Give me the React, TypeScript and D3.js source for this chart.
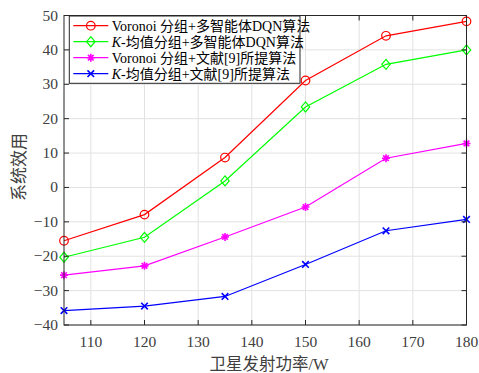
import React from 'react';
import * as d3 from 'd3';

const xValues = [105, 120, 135, 150, 165, 180];
const voronoiDqn = [-15.5, -7.9, 8.7, 31.1, 44.1, 48.3];
const kmeansDqn = [-20.3, -14.5, 1.9, 23.4, 35.8, 40.0];
const voronoiRef = [-25.5, -22.8, -14.4, -5.7, 8.5, 12.8];
const kmeansRef = [-35.8, -34.5, -31.7, -22.4, -12.6, -9.3];
const xTicks = [110, 120, 130, 140, 150, 160, 170, 180];
const yTicks = [-40, -30, -20, -10, 0, 10, 20, 30, 40, 50];
const xLabel = '卫星发射功率/W';
const yLabel = '系统效用';

type Series = { prefix: string; italic: boolean; rest: string; values: number[]; color: string; marker: string };
const series: Series[] = [
  { prefix: 'Voronoi ', italic: false, rest: '分组+多智能体DQN算法', values: voronoiDqn, color: '#ff0000', marker: 'circle' },
  { prefix: 'K', italic: true, rest: '-均值分组+多智能体DQN算法', values: kmeansDqn, color: '#00ff00', marker: 'diamond' },
  { prefix: 'Voronoi ', italic: false, rest: '分组+文献[9]所提算法', values: voronoiRef, color: '#ff00ff', marker: 'star' },
  { prefix: 'K', italic: true, rest: '-均值分组+文献[9]所提算法', values: kmeansRef, color: '#0000ff', marker: 'cross' },
];

const W = 479, H = 373;
const M = { left: 64, right: 466.5, top: 15.5, bottom: 325 };
const FONT = "'Liberation Serif', 'Times New Roman', 'Noto Sans CJK SC', serif";

const x = d3.scaleLinear().domain([105, 180]).range([M.left, M.right]);
const y = d3.scaleLinear().domain([-40, 50]).range([M.bottom, M.top]);

function Marker({ kind, cx, cy, color }: { kind: string; cx: number; cy: number; color: string }) {
  const t = `translate(${cx},${cy})`;
  if (kind === 'circle') return <circle cx={cx} cy={cy} r={4.3} fill="none" stroke={color} strokeWidth={1.2} />;
  if (kind === 'diamond') return <path transform={t} d="M0,-5L4.2,0L0,5L-4.2,0Z" fill="none" stroke={color} strokeWidth={1.2} />;
  if (kind === 'star') {
    const r = 4;
    const d = [0, 45, 90, 135].map(a => {
      const rad = (a * Math.PI) / 180;
      const dx = r * Math.cos(rad), dy = r * Math.sin(rad);
      return `M${-dx},${-dy}L${dx},${dy}`;
    }).join('');
    return <path transform={t} d={d} fill="none" stroke={color} strokeWidth={1.6} />;
  }
  const r = 3.3;
  return <path transform={t} d={`M${-r},${-r}L${r},${r}M${-r},${r}L${r},${-r}`} fill="none" stroke={color} strokeWidth={1.6} />;
}

export default function App() {
  const line = d3.line<number>().x((_, i) => x(xValues[i])).y(d => y(d));
  const tick = 5;
  const legend = { x0: 69.3, y0: 16, x1: 300, y1: 83.3, row0: 25.7, dy: 16 };
  return (
    <div style={{ position: 'fixed', left: 0, top: 0 }}>
      <svg width={W} height={H} style={{ display: 'block', background: '#fff' }} fontFamily={FONT}>
        <rect width={W} height={H} fill="#fff" />
        {/* grid */}
        {xTicks.map(t => (
          <line key={'gx' + t} x1={x(t)} x2={x(t)} y1={M.top} y2={M.bottom} stroke="#e2e2e2" strokeWidth={1} />
        ))}
        {yTicks.map(t => (
          <line key={'gy' + t} x1={M.left} x2={M.right} y1={y(t)} y2={y(t)} stroke="#e2e2e2" strokeWidth={1} />
        ))}
        {/* series */}
        {series.map((s, si) => (
          <g key={'s' + si}>
            <path d={line(s.values) || ''} fill="none" stroke={s.color} strokeWidth={1.2} />
            {s.values.map((v, i) => (
              <Marker key={i} kind={s.marker} cx={x(xValues[i])} cy={y(v)} color={s.color} />
            ))}
          </g>
        ))}
        {/* axes box */}
        <rect x={M.left} y={M.top} width={M.right - M.left} height={M.bottom - M.top} fill="none" stroke="#262626" strokeWidth={1} />
        {xTicks.map(t => (
          <g key={'tx' + t}>
            <line x1={x(t)} x2={x(t)} y1={M.bottom} y2={M.bottom - tick} stroke="#262626" />
            <line x1={x(t)} x2={x(t)} y1={M.top} y2={M.top + tick} stroke="#262626" />
            <text x={x(t)} y={347} textAnchor="middle" fontSize={15.5} fill="#404040">{t}</text>
          </g>
        ))}
        {yTicks.map(t => (
          <g key={'ty' + t}>
            <line x1={M.left} x2={M.left + tick} y1={y(t)} y2={y(t)} stroke="#262626" />
            <line x1={M.right} x2={M.right - tick} y1={y(t)} y2={y(t)} stroke="#262626" />
            <text x={58} y={y(t) + 5} textAnchor="end" fontSize={15.5} fill="#404040">{t < 0 ? '\u2212' + Math.abs(t) : t}</text>
          </g>
        ))}
        {/* axis labels */}
        <text x={269} y={370} textAnchor="middle" fontSize={16.5} fill="#404040">{xLabel}</text>
        <text transform={`translate(25,167) rotate(-90)`} textAnchor="middle" fontSize={17} fill="#404040">{yLabel}</text>
        {/* legend */}
        <rect x={legend.x0} y={legend.y0} width={legend.x1 - legend.x0} height={legend.y1 - legend.y0} fill="#fff" stroke="#262626" strokeWidth={1} />
        {series.map((s, i) => {
          const ry = legend.row0 + i * legend.dy;
          return (
            <g key={'l' + i}>
              <line x1={73.3} x2={108.3} y1={ry} y2={ry} stroke={s.color} strokeWidth={1.2} />
              <Marker kind={s.marker} cx={90.8} cy={ry} color={s.color} />
              <text x={111.7} y={ry + 5} fontSize={14} fill="#000">
                <tspan fontStyle={s.italic ? 'italic' : 'normal'}>{s.prefix}</tspan>
                <tspan>{s.rest}</tspan>
              </text>
            </g>
          );
        })}
      </svg>
    </div>
  );
}
